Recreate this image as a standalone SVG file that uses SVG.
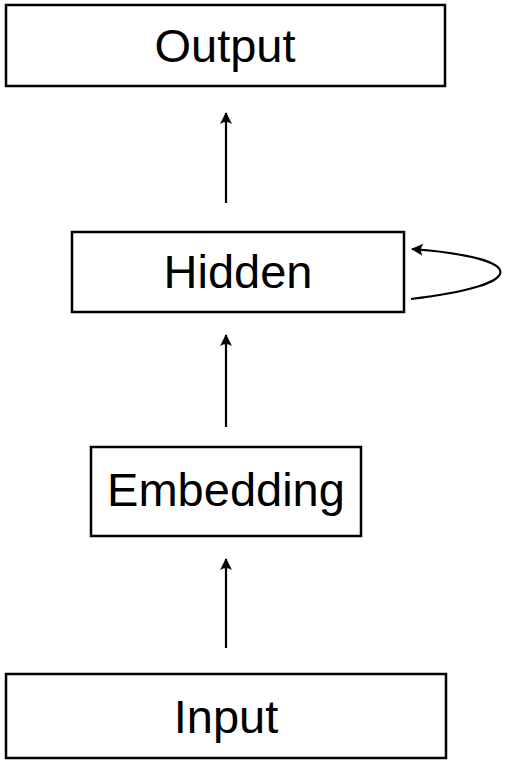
<svg xmlns="http://www.w3.org/2000/svg" width="510" height="765" viewBox="0 0 510 765">
<style>
.box{fill:#fff;stroke:#000;stroke-width:2.5}
.lbl{font-family:"Liberation Sans",Arial,sans-serif;font-size:47px;fill:#000;text-anchor:middle}
.edge{fill:none;stroke:#000;stroke-width:2.2}
</style>
<defs>
<marker id="ah" markerUnits="userSpaceOnUse" markerWidth="16" markerHeight="16" viewBox="-12 -8 14 16" refX="0" refY="0" orient="auto">
<path d="M1,0 L-11,-6 Q-7,0 -11,6 Z" fill="#000"/>
</marker>
</defs>
<rect width="510" height="765" fill="#fff"/>
<g id="output">
<rect class="box" x="6" y="5" width="439" height="81"/>
<text class="lbl" x="225" y="62">Output</text>
</g>
<g id="hidden">
<rect class="box" x="72" y="232" width="332" height="80"/>
<text class="lbl" x="238" y="288">Hidden</text>
</g>
<g id="embedding">
<rect class="box" x="91" y="447" width="270" height="89"/>
<text class="lbl" x="226" y="506">Embedding</text>
</g>
<g id="input">
<rect class="box" x="6" y="674" width="440" height="84"/>
<text class="lbl" x="226" y="733">Input</text>
</g>
<g id="connectors">
<line class="edge" x1="226" y1="648" x2="226" y2="559" marker-end="url(#ah)"/>
<line class="edge" x1="226" y1="427" x2="226" y2="335" marker-end="url(#ah)"/>
<line class="edge" x1="226" y1="203" x2="226" y2="113" marker-end="url(#ah)"/>
<path class="edge" d="M411,299 C530,285 530,258 412,249" marker-end="url(#ah)"/>
</g>
</svg>
